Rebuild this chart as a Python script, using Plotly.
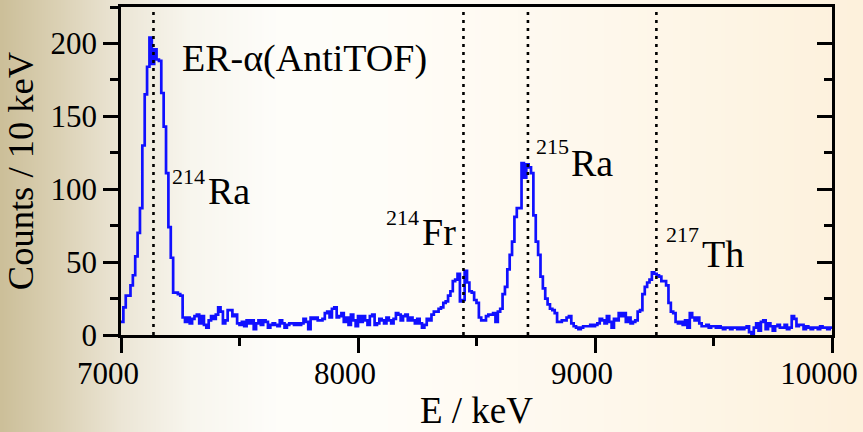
import base64, struct, zlib
import numpy as np
import plotly.graph_objects as go

# ---------------- data ----------------
bin_start = 7000
bin_width = 10
counts = [
    9, 19, 27, 27, 34, 41, 54, 70, 87, 130,
    165, 184, 204, 186, 196, 189, 188, 166, 143, 111,
    74, 53, 29, 29, 28, 27, 12, 9, 12, 8,
    11, 13, 14, 8, 13, 7, 5, 10, 13, 11,
    14, 19, 16, 8, 10, 17, 17, 13, 14, 8,
    7, 9, 6, 10, 8, 10, 4, 8, 10, 7,
    10, 9, 5, 7, 8, 7, 6, 10, 8, 5,
    7, 8, 8, 7, 8, 7, 8, 11, 9, 4,
    12, 11, 12, 10, 10, 11, 15, 16, 12, 18,
    19, 12, 13, 15, 9, 12, 7, 14, 10, 6,
    13, 9, 13, 10, 7, 13, 14, 7, 8, 11,
    10, 8, 12, 10, 8, 11, 15, 14, 10, 13,
    14, 10, 12, 10, 8, 11, 8, 5, 7, 11,
    10, 14, 16, 16, 18, 19, 22, 23, 27, 30,
    37, 38, 42, 23, 24, 44, 36, 30, 29, 24,
    22, 12, 10, 10, 13, 14, 14, 15, 9, 16,
    18, 28, 33, 45, 55, 64, 81, 87, 87, 118,
    108, 117, 115, 111, 82, 64, 55, 40, 32, 25,
    21, 18, 17, 15, 9, 9, 10, 10, 12, 13,
    8, 6, 5, 4, 5, 6, 6, 6, 7, 6,
    7, 8, 11, 10, 8, 13, 9, 5, 11, 10,
    15, 13, 15, 9, 12, 8, 9, 10, 16, 17,
    28, 33, 36, 38, 43, 42, 41, 40, 37, 37,
    34, 22, 16, 15, 9, 8, 9, 7, 10, 5,
    15, 12, 10, 12, 8, 6, 6, 7, 5, 6,
    6, 5, 6, 5, 4, 5, 5, 4, 5, 5,
    4, 5, 4, 5, 6, 2, 1, 5, 8, 3,
    9, 10, 4, 8, 6, 3, 6, 7, 5, 5,
    7, 4, 5, 13, 11, 6, 7, 7, 4, 6,
    5, 4, 5, 5, 4, 6, 5, 5, 4, 5,
]
peak_energies = [7137, 8445, 8717, 9259]
mass_numbers = ["214", "214", "215", "217"]
elements = ["Ra", "Fr", "Ra", "Th"]
mass_x = [7205, 8110, 8742, 9292]
mass_y = [108.7, 80.3, 129.3, 68.9]
elem_x = [7360, 8260, 8890, 9442]
elem_y = [99, 70.4, 118, 55.6]
x_ticks = [7000, 8000, 9000, 10000]
x_ticktext = ["7000", "8000", "9000", "10000"]
y_ticks = [0, 50, 100, 150, 200]
y_ticktext = ["0", "50", "100", "150", "200"]
title_text = "ER-α(AntiTOF)"

# ---------------- figure ----------------
edges = bin_start + bin_width * np.arange(len(counts) + 1)
yvals = counts + [counts[-1]]

FONT = "Liberation Serif, Times New Roman, DejaVu Serif, serif"
fig = go.Figure()
fig.add_trace(go.Scatter(x=edges, y=yvals, mode="lines", line_shape="hv",
                         line=dict(color="#1010ff", width=2.7),
                         hoverinfo="skip", showlegend=False))
# invisible trace for right mirror axis
fig.add_trace(go.Scatter(x=[edges[0]], y=[0], yaxis="y2", mode="markers",
                         marker=dict(opacity=0), hoverinfo="skip", showlegend=False))

for e in peak_energies:
    fig.add_shape(type="line", xref="x", yref="paper", x0=e, x1=e, y0=0, y1=1,
                  line=dict(color="black", width=2.6, dash="3px,5px"))

for m, mx, my in zip(mass_numbers, mass_x, mass_y):
    fig.add_annotation(x=mx, y=my, xref="x", yref="y", xanchor="left", yanchor="middle",
                       text=m, showarrow=False,
                       font=dict(family=FONT, size=22, color="black"))
for el, ex, ey in zip(elements, elem_x, elem_y):
    fig.add_annotation(x=ex, y=ey, xref="x", yref="y", xanchor="left", yanchor="middle",
                       text=el, showarrow=False,
                       font=dict(family=FONT, size=38, color="black"))
fig.add_annotation(x=7250, y=189.7, xref="x", yref="y", xanchor="left", yanchor="middle",
                   text=title_text, showarrow=False,
                   font=dict(family=FONT, size=38, color="black"))

# background gradient image
W = 863
stops = [0.0, 0.07, 0.14, 0.22, 0.32, 0.45, 0.6, 0.8, 1.0]
cols = np.array([(204, 191, 153), (220, 210, 182), (236, 230, 214), (248, 246, 238),
                 (254, 253, 250), (255, 253, 248), (255, 250, 241), (254, 246, 231),
                 (253, 241, 220)], dtype=float)
xs = np.linspace(0, 1, W)
rgb = np.stack([np.interp(xs, stops, cols[:, c]) for c in range(3)], axis=1).astype(np.uint8)
row = b"\x00" + rgb.tobytes()
raw = row * 2
def chunk(t, d):
    c = struct.pack(">I", len(d)) + t + d
    return c + struct.pack(">I", zlib.crc32(t + d) & 0xffffffff)
png = (b"\x89PNG\r\n\x1a\n" + chunk(b"IHDR", struct.pack(">IIBBBBB", W, 2, 8, 2, 0, 0, 0))
       + chunk(b"IDAT", zlib.compress(raw)) + chunk(b"IEND", b""))
uri = "data:image/png;base64," + base64.b64encode(png).decode()

L, R, T, B = 121, 31, 7, 97
pw, ph = 863 - L - R, 432 - T - B
fig.add_layout_image(source=uri, xref="paper", yref="paper", x=-L / pw, y=(ph + T) / ph,
                     sizex=863 / pw, sizey=432 / ph, sizing="stretch", layer="below",
                     xanchor="left", yanchor="top")

tickfont = dict(family=FONT, size=31, color="black")
fig.update_layout(
    width=863, height=432, margin=dict(l=L, r=R, t=T, b=B),
    paper_bgcolor="#fdf8ee", plot_bgcolor="rgba(0,0,0,0)",
    xaxis=dict(range=[7000, 10000], tickvals=x_ticks, ticktext=x_ticktext,
               ticks="outside", ticklen=15,
               tickwidth=2.6, tickcolor="black", showline=True, linewidth=2.8,
               linecolor="black", mirror=True, showgrid=False, zeroline=False,
               automargin=False, ticklabelshift=-13, ticklabelstandoff=-6,
               minor=dict(dtick=500, tick0=7000, ticks="outside", ticklen=8, tickwidth=2.6,
                          tickcolor="black", showgrid=False),
               tickfont=tickfont,
               title=dict(text="E / keV", font=dict(family=FONT, size=37, color="black"),
                          standoff=8)),
    yaxis=dict(range=[0, 225], tickvals=y_ticks, ticktext=y_ticktext,
               ticks="outside", ticklen=15,
               tickwidth=2.6, tickcolor="black", showline=True, linewidth=2.8,
               linecolor="black", mirror=True, showgrid=False, zeroline=False,
               automargin=False,
               minor=dict(dtick=25, tick0=0, ticks="outside", ticklen=8, tickwidth=2.6,
                          tickcolor="black", showgrid=False),
               tickfont=tickfont, ticklabelstandoff=0,
               title=dict(text="Counts / 10 keV", font=dict(family=FONT, size=36.5, color="black"),
                          standoff=6)),
    yaxis2=dict(range=[0, 225], overlaying="y", side="right", tickvals=y_ticks,
                ticks="inside", ticklen=15, tickwidth=2.6, tickcolor="black",
                showticklabels=False, showline=False, showgrid=False, zeroline=False,
                automargin=False,
                minor=dict(dtick=25, tick0=0, ticks="inside", ticklen=8, tickwidth=2.6,
                           tickcolor="black", showgrid=False)),
)
fig.write_html("out.html", config={"displayModeBar": False},
               post_script="document.body.style.margin='0px';document.body.style.overflow='hidden';")
